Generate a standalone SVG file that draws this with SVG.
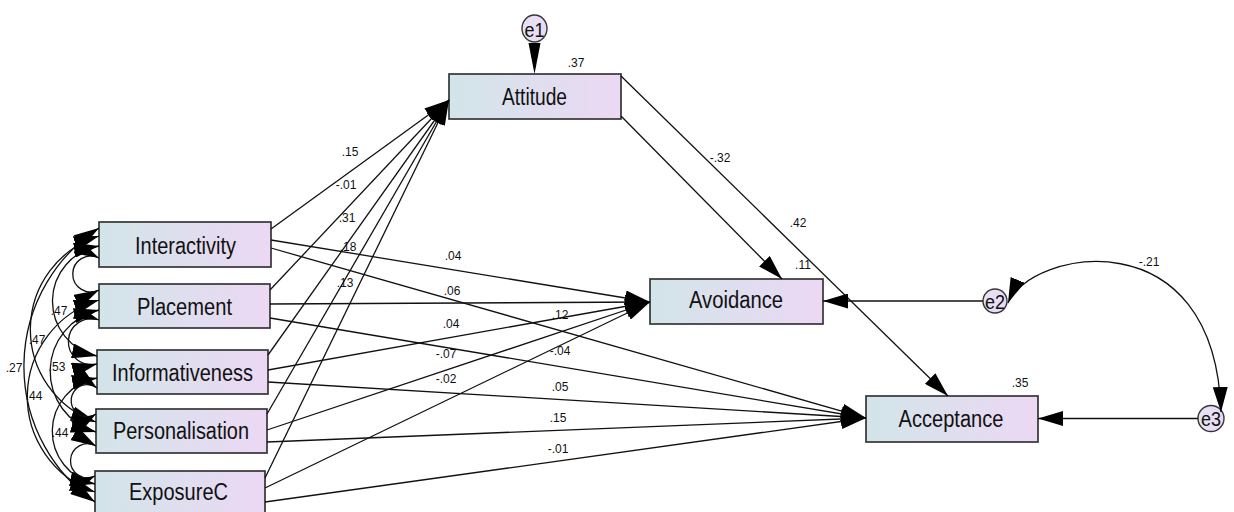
<svg xmlns="http://www.w3.org/2000/svg" width="1234" height="512" viewBox="0 0 1234 512">
  <style>
    .box { fill: url(#boxFill); stroke: #363636; stroke-width: 1.7; }
    .err { fill: url(#errFill); stroke: #363636; stroke-width: 1.4; }
    .name { font-family: "Liberation Sans", Arial, sans-serif; font-size: 23px; fill: #111; text-anchor: middle; }
    .ename { font-family: "Liberation Sans", Arial, sans-serif; font-size: 20px; fill: #111; text-anchor: middle; }
    .est { font-family: "Liberation Sans", Arial, sans-serif; font-size: 12px; fill: #111; text-anchor: middle; }
    .path { fill: none; stroke: #111; stroke-width: 1.3; marker-end: url(#ah); }
    .cov { fill: none; stroke: #111; stroke-width: 1.3; marker-start: url(#ah); marker-end: url(#ah); }
  </style>
  <defs>
    <linearGradient id="boxFill" x1="0" y1="0" x2="1" y2="0">
      <stop offset="0" stop-color="#d2e5e9"/>
      <stop offset="1" stop-color="#ecd8f4"/>
    </linearGradient>
    <linearGradient id="errFill" x1="0" y1="0" x2="1" y2="0">
      <stop offset="0" stop-color="#e4e4f2"/>
      <stop offset="1" stop-color="#ecd8f4"/>
    </linearGradient>
    <marker id="ah" viewBox="0 0 25 15" refX="25" refY="7.5" markerWidth="25" markerHeight="15" markerUnits="userSpaceOnUse" orient="auto-start-reverse">
      <path d="M0,0 L25,7.5 L0,15 z" fill="#000"/>
    </marker>
  </defs>

  <rect width="1234" height="512" fill="#fff"/>

  <!-- observed variables -->
  <g id="interactivity">
    <rect class="box" x="99" y="222" width="172" height="45"/>
    <text class="name" x="185.5" y="254" textLength="101" lengthAdjust="spacingAndGlyphs">Interactivity</text>
  </g>
  <g id="placement">
    <rect class="box" x="99" y="284" width="171" height="44"/>
    <text class="name" x="184.5" y="315" textLength="95" lengthAdjust="spacingAndGlyphs">Placement</text>
  </g>
  <g id="informativeness">
    <rect class="box" x="97" y="350" width="171" height="44"/>
    <text class="name" x="182.5" y="381" textLength="141" lengthAdjust="spacingAndGlyphs">Informativeness</text>
  </g>
  <g id="personalisation">
    <rect class="box" x="96" y="409" width="171" height="44"/>
    <text class="name" x="181" y="439" textLength="136" lengthAdjust="spacingAndGlyphs">Personalisation</text>
  </g>
  <g id="exposurec">
    <rect class="box" x="95" y="471" width="170" height="44"/>
    <text class="name" x="178.5" y="500" textLength="99" lengthAdjust="spacingAndGlyphs">ExposureC</text>
  </g>
  <g id="attitude">
    <rect class="box" x="449" y="74" width="172" height="45"/>
    <text class="name" x="534.5" y="105" textLength="65" lengthAdjust="spacingAndGlyphs">Attitude</text>
    <text class="est" x="576" y="67">.37</text>
  </g>
  <g id="avoidance">
    <rect class="box" x="650" y="279" width="173" height="45"/>
    <text class="name" x="736" y="308" textLength="94" lengthAdjust="spacingAndGlyphs">Avoidance</text>
    <text class="est" x="803" y="269">.11</text>
  </g>
  <g id="acceptance">
    <rect class="box" x="866" y="396" width="172" height="46"/>
    <text class="name" x="951" y="427" textLength="105" lengthAdjust="spacingAndGlyphs">Acceptance</text>
    <text class="est" x="1020" y="387">.35</text>
  </g>

  <!-- error terms -->
  <g id="e1">
    <ellipse class="err" cx="534.5" cy="28.5" rx="12.5" ry="13.5"/>
    <text class="ename" x="534.5" y="36.5" textLength="20" lengthAdjust="spacingAndGlyphs">e1</text>
  </g>
  <g id="e2">
    <ellipse class="err" cx="995" cy="301" rx="12" ry="12"/>
    <text class="ename" x="995" y="308.5" textLength="20" lengthAdjust="spacingAndGlyphs">e2</text>
  </g>
  <g id="e3">
    <ellipse class="err" cx="1211" cy="418.5" rx="13" ry="13"/>
    <text class="ename" x="1211" y="426" textLength="20" lengthAdjust="spacingAndGlyphs">e3</text>
  </g>

  <g id="connectors">
    <!-- predictors to Attitude -->
    <line class="path" x1="271" y1="229" x2="449" y2="100"/>
    <line class="path" x1="270" y1="290" x2="449" y2="100"/>
    <line class="path" x1="268" y1="355" x2="449" y2="100"/>
    <line class="path" x1="267" y1="414" x2="449" y2="100"/>
    <line class="path" x1="265" y1="478" x2="449" y2="100"/>
    <!-- predictors to Avoidance -->
    <line class="path" x1="271" y1="240" x2="650" y2="302"/>
    <line class="path" x1="270" y1="304" x2="650" y2="302"/>
    <line class="path" x1="268" y1="370" x2="650" y2="302"/>
    <line class="path" x1="267" y1="430" x2="650" y2="302"/>
    <line class="path" x1="265" y1="488" x2="650" y2="302"/>
    <!-- predictors to Acceptance -->
    <line class="path" x1="271" y1="248" x2="866" y2="418"/>
    <line class="path" x1="270" y1="318" x2="866" y2="418"/>
    <line class="path" x1="268" y1="382" x2="866" y2="418"/>
    <line class="path" x1="267" y1="442" x2="866" y2="418"/>
    <line class="path" x1="265" y1="502" x2="866" y2="418"/>
    <!-- Attitude to outcomes -->
    <line class="path" x1="621" y1="116" x2="782" y2="279"/>
    <line class="path" x1="621" y1="76" x2="948" y2="396"/>
    <!-- residuals -->
    <polygon points="528.5,43 540.5,43 534.5,74" fill="#000"/>
    <line class="path" x1="983" y1="301" x2="823" y2="301"/>
    <line class="path" x1="1198" y1="418.5" x2="1038" y2="418.5"/>
    <!-- residual covariance -->
    <path class="cov" d="M1008,303 C1030,250 1215,215 1221,412"/>
    <!-- predictor covariances -->
    <path class="cov" d="M99,228 A165,165 0 0 0 95,502"/>
    <path class="cov" d="M99,236 A98,98 0 0 0 96,422"/>
    <path class="cov" d="M99,300 A101,101 0 0 0 95,492"/>
    <path class="cov" d="M99,246 A56,56 0 0 0 97,356"/>
    <path class="cov" d="M99,310 A63,63 0 0 0 96,432"/>
    <path class="cov" d="M97,378 A54,54 0 0 0 95,484"/>
    <path class="cov" d="M99,258 A18,18 0 1 0 99,290"/>
    <path class="cov" d="M99,320 A23,23 0 1 0 97,364"/>
    <path class="cov" d="M97,388 A16,16 0 1 0 96,414"/>
    <path class="cov" d="M96,446 A17,17 0 1 0 95,476"/>
  </g>

  <g id="estimates">
    <text class="est" x="350" y="156">.15</text>
    <text class="est" x="346" y="189">-.01</text>
    <text class="est" x="347" y="222">.31</text>
    <text class="est" x="348" y="251">.18</text>
    <text class="est" x="345" y="287">.13</text>
    <text class="est" x="453" y="260">.04</text>
    <text class="est" x="452" y="295">.06</text>
    <text class="est" x="560" y="319">.12</text>
    <text class="est" x="451" y="328">.04</text>
    <text class="est" x="446" y="358">-.07</text>
    <text class="est" x="560" y="355">-.04</text>
    <text class="est" x="446" y="383">-.02</text>
    <text class="est" x="560" y="391">.05</text>
    <text class="est" x="558" y="422">.15</text>
    <text class="est" x="558" y="453">-.01</text>
    <text class="est" x="720" y="162">-.32</text>
    <text class="est" x="798" y="227">.42</text>
    <text class="est" x="1149" y="266">-.21</text>
    <text class="est" x="14" y="372">.27</text>
    <text class="est" x="37" y="344">.47</text>
    <text class="est" x="34" y="400">.44</text>
    <text class="est" x="59" y="315">.47</text>
    <text class="est" x="57" y="371">.53</text>
    <text class="est" x="60" y="437">.44</text>
  </g>
</svg>
